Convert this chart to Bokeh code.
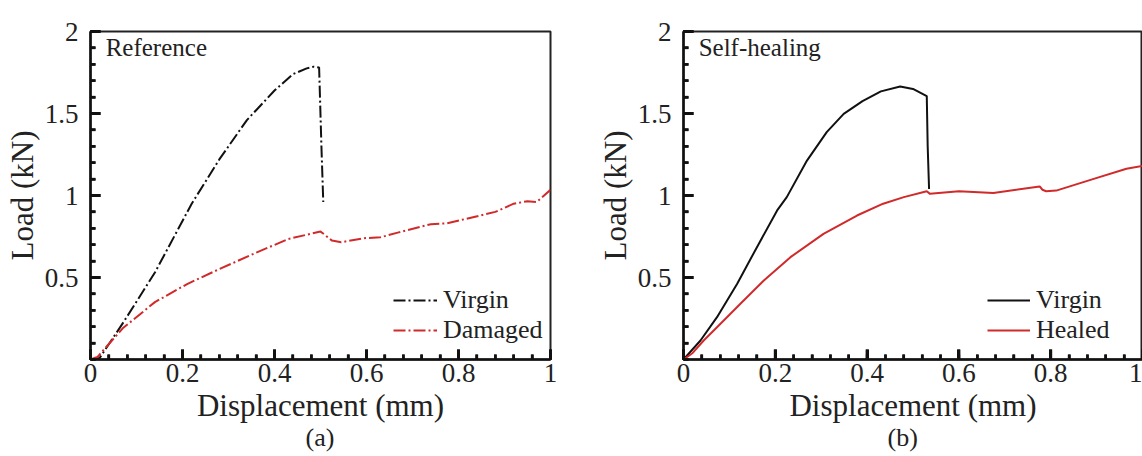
from bokeh.plotting import figure
from bokeh.layouts import row
from bokeh.models import Range1d, FixedTicker, CustomJSTickFormatter, Label, Title
from bokeh.embed import file_html
from bokeh.resources import INLINE

# ---------------- data ----------------
# Panel (a): Reference
ref_virgin_x = [0, 0.02, 0.07, 0.14, 0.18, 0.22, 0.28, 0.34, 0.40, 0.44, 0.47, 0.485, 0.497, 0.502, 0.506]
ref_virgin_y = [0, 0.01, 0.22, 0.53, 0.74, 0.95, 1.22, 1.46, 1.64, 1.74, 1.775, 1.785, 1.78, 1.30, 0.96]
ref_damaged_x = [0, 0.015, 0.07, 0.14, 0.21, 0.275, 0.355, 0.43, 0.50, 0.505, 0.525, 0.545, 0.595,
                 0.63, 0.67, 0.74, 0.775, 0.82, 0.88, 0.92, 0.95, 0.97, 1.0]
ref_damaged_y = [0, 0.015, 0.19, 0.35, 0.46, 0.545, 0.645, 0.735, 0.78, 0.77, 0.725, 0.715, 0.74,
                 0.745, 0.775, 0.825, 0.83, 0.86, 0.90, 0.95, 0.965, 0.96, 1.035]

# Panel (b): Self-healing
sh_virgin_x = [0, 0.037, 0.073, 0.117, 0.16, 0.204, 0.225, 0.269, 0.312, 0.349, 0.39, 0.43, 0.472,
               0.50, 0.53, 0.532, 0.535]
sh_virgin_y = [0, 0.116, 0.258, 0.462, 0.685, 0.909, 0.99, 1.213, 1.386, 1.498, 1.575, 1.635, 1.665,
               1.65, 1.606, 1.30, 1.04]
sh_healed_x = [0, 0.02, 0.044, 0.073, 0.124, 0.175, 0.233, 0.305, 0.378, 0.435, 0.48, 0.53, 0.537,
               0.60, 0.675, 0.776, 0.782, 0.79, 0.812, 0.892, 0.965, 1.0]
sh_healed_y = [0, 0.04, 0.116, 0.197, 0.34, 0.482, 0.624, 0.766, 0.878, 0.95, 0.99, 1.026, 1.01,
               1.026, 1.015, 1.055, 1.035, 1.026, 1.03, 1.10, 1.163, 1.18]

x_major_ticks = [0, 0.2, 0.4, 0.6, 0.8, 1.0]
x_minor_ticks = [round(i * 0.04, 2) for i in range(26)]
y_major_ticks = [0.5, 1.0, 1.5, 2.0]
y_minor_ticks = [round(i * 0.1, 1) for i in range(21)]

FONT = "Liberation Serif"
RED = "#d02a2a"
BLACK = "#111111"
TEXT = "#222222"
FRAME_H = 328


def make_panel(tag, tag_offset, note, series, dash, frame_width, border_right,
               legend_vx, glyph_w):
    p = figure(frame_width=frame_width, frame_height=FRAME_H,
               x_range=Range1d(0, 1), y_range=Range1d(0, 2),
               output_backend="svg", toolbar_location=None,
               min_border_left=90, min_border_right=border_right,
               min_border_top=31, min_border_bottom=97)
    p.grid.visible = False
    p.outline_line_color = "#222222"
    p.outline_line_width = 2

    fmt = CustomJSTickFormatter(code="return String(Math.round(tick*10)/10);")
    p.xaxis.ticker = FixedTicker(ticks=x_major_ticks, minor_ticks=x_minor_ticks)
    p.yaxis.ticker = FixedTicker(ticks=y_major_ticks, minor_ticks=y_minor_ticks)
    for ax in (p.xaxis[0], p.yaxis[0]):
        ax.formatter = fmt
        ax.axis_line_width = 2.5
        ax.axis_line_color = BLACK
        ax.major_tick_in = 10
        ax.major_tick_out = 0
        ax.minor_tick_in = 5
        ax.minor_tick_out = 0
        ax.major_tick_line_color = BLACK
        ax.minor_tick_line_color = BLACK
        ax.major_tick_line_width = 3
        ax.minor_tick_line_width = 2.5
        ax.major_label_text_font = FONT
        ax.major_label_text_font_size = "27px"
        ax.major_label_text_color = TEXT
        ax.axis_label_text_font = FONT
        ax.axis_label_text_font_size = "31px"
        ax.axis_label_text_font_style = "normal"
        ax.axis_label_text_color = TEXT
    p.xaxis.axis_label = "Displacement (mm)"
    p.yaxis.axis_label = "Load (kN)"
    p.xaxis.major_label_standoff = 4
    p.yaxis.major_label_standoff = 12
    p.xaxis.axis_label_standoff = 3
    p.yaxis.axis_label_standoff = 2

    # inward tick marks at the axis tick positions (10 px major, 5 px minor)
    tx = 2.0 / FRAME_H
    ty = 1.0 / frame_width
    p.segment(x0=x_major_ticks, y0=[0] * len(x_major_ticks), x1=x_major_ticks,
              y1=[10 * tx] * len(x_major_ticks), line_color=BLACK, line_width=3, level="overlay")
    p.segment(x0=x_minor_ticks, y0=[0] * len(x_minor_ticks), x1=x_minor_ticks,
              y1=[5 * tx] * len(x_minor_ticks), line_color=BLACK, line_width=2.5, level="overlay")
    p.segment(x0=[0] * len(y_major_ticks), y0=y_major_ticks, x1=[10 * ty] * len(y_major_ticks),
              y1=y_major_ticks, line_color=BLACK, line_width=3, level="overlay")
    p.segment(x0=[0] * len(y_minor_ticks), y0=y_minor_ticks, x1=[5 * ty] * len(y_minor_ticks),
              y1=y_minor_ticks, line_color=BLACK, line_width=2.5, level="overlay")

    for (xs, ys, color, name) in series:
        p.line(xs, ys, line_color=color, line_width=2, line_dash=dash, legend_label=name)

    leg = p.legend[0]
    leg.location = (legend_vx, 10)
    leg.margin = 0
    leg.padding = 4
    leg.spacing = 0
    leg.glyph_width = glyph_w
    leg.glyph_height = 18
    leg.label_height = 18
    leg.label_standoff = 6
    leg.label_text_font = FONT
    leg.label_text_font_size = "26px"
    leg.label_text_color = TEXT
    leg.background_fill_alpha = 0
    leg.border_line_alpha = 0

    p.add_layout(Label(x=0.033, y=1.902, text=note, text_font=FONT, text_font_size="25px",
                       text_color=TEXT, text_baseline="middle"))
    p.add_layout(Title(text=tag, align="left", offset=tag_offset, standoff=-9,
                       text_font=FONT, text_font_size="26px", text_font_style="normal",
                       text_color=TEXT), "below")
    return p


pa = make_panel("(a)", 215, "Reference",
                [(ref_virgin_x, ref_virgin_y, BLACK, "Virgin"),
                 (ref_damaged_x, ref_damaged_y, RED, "Damaged")],
                "12 3 2 3", 460, 43, 299, 44)
pb = make_panel("(b)", 204, "Self-healing",
                [(sh_virgin_x, sh_virgin_y, BLACK, "Virgin"),
                 (sh_healed_x, sh_healed_y, RED, "Healed")],
                "solid", 459, 0, 300, 43)

layout = row(pa, pb)
open("out.html", "w").write(file_html(layout, INLINE))
